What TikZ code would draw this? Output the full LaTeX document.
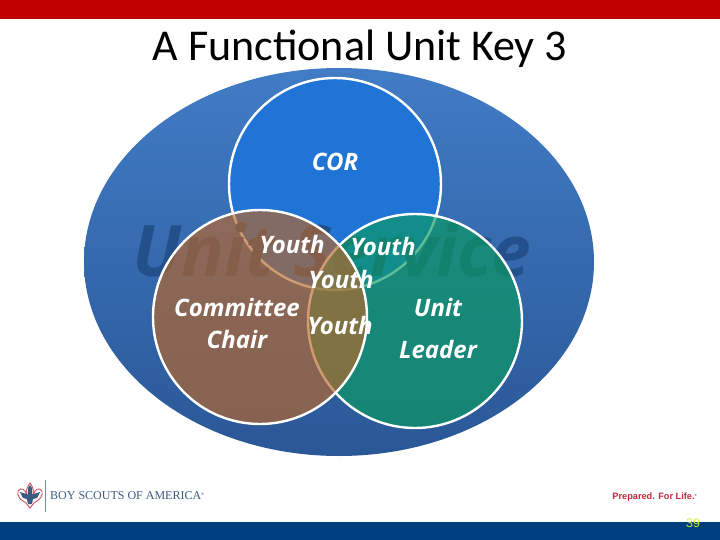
\documentclass[tikz,border=0pt]{standalone}
\usepackage{fontspec}
\setmainfont{Carlito}
\newfontfamily\labelfont{Open Sans}
\newfontfamily\logofont{Liberation Serif}
\newfontfamily\tagfont{Liberation Sans}
\usetikzlibrary{positioning}
\definecolor{colorBarra}{HTML}{C00000}
\definecolor{colorBase}{HTML}{003F7F}
\definecolor{colorCor}{HTML}{1F74D6}
\definecolor{colorChair}{HTML}{BA6729}
\definecolor{colorLeader}{HTML}{0A9C60}
\definecolor{colorFondoA}{HTML}{417CC6}
\definecolor{colorFondoB}{HTML}{2A5796}
\definecolor{colorLema}{HTML}{23508A}
\definecolor{colorLogo}{HTML}{3A5A80}
\definecolor{colorVida}{HTML}{C8243F}
\begin{document}
\begin{tikzpicture}[x=1pt, y=-1pt,
        anillo/.style={draw=white, line width=2.4pt},
        rotulo/.style={text=white, align=center, inner sep=0pt, font=\labelfont\bfseries\itshape\fontsize{24}{32}\selectfont}
    ]
        \useasboundingbox (0,0) rectangle (720,540);
        \fill[white] (0,0) rectangle (720,540);
        \fill[colorBarra] (0,0) rectangle (720,19);
        \fill[colorBase] (0,522) rectangle (720,540);
        \node (titulo) at (360,49) {\fontsize{44}{48}\selectfont A Functional Unit Key 3};
        \shade[top color=colorFondoA, bottom color=colorFondoB] (339,262) ellipse [x radius=255pt, y radius=194pt];
        \fill[colorCor] (335,184) circle [radius=106pt];
        \draw[anillo] (335,184) circle [radius=106pt];
        \node[text=colorLema, inner sep=0pt, font=\labelfont\bfseries\itshape\fontsize{71}{78}\selectfont] (lema) at (332,250) {Unit Service};
        \fill[colorLeader, fill opacity=.65] (415,321) circle [radius=107pt];
        \draw[anillo] (415,321) circle [radius=107pt];
        \fill[colorChair, fill opacity=.65] (260,317) circle [radius=107pt];
        \draw[anillo] (260,317) circle [radius=107pt];
        \node[rotulo] (cor) at (335,162) {COR};
        \node[rotulo] (jovenA) at (292,244) {Youth};
        \node[rotulo] (jovenB) at (383,246) {Youth};
        \node[rotulo] (jovenC) at (341,279) {Youth};
        \node[rotulo] (jovenD) at (340,325) {Youth};
        \node[rotulo] (chair) at (237,323) {Committee\\Chair};
        \node[rotulo, font=\labelfont\bfseries\itshape\fontsize{24}{42}\selectfont] (leader) at (438,328) {Unit\\Leader};
        \draw[colorLogo!70!white, line width=.6pt] (45,480) -- (45,512);
        \draw[colorVida!80!white, fill=white, line width=.9pt] (30,483) .. controls (26,489) and (26,492) .. (27,495) .. controls (25,489) and (21,487) .. (18,491) .. controls (17,496) and (20,499) .. (23,501) -- (26,503) -- (30,508) -- (34,503) -- (37,501) .. controls (40,499) and (43,496) .. (42,491) .. controls (39,487) and (35,489) .. (33,495) .. controls (34,492) and (34,489) .. (30,483) -- cycle;
        \fill[colorLogo] (20,492) -- (30,495) -- (40,492) -- (37,498) -- (33,499) -- (32,504) -- (28,504) -- (27,499) -- (23,498) -- cycle;
        \fill[colorLogo] (28,488) -- (30,485) -- (32,488) -- (32,495) -- (28,495) -- cycle;
        \node[text=colorLogo, anchor=west, inner sep=0pt, font=\logofont\fontsize{12}{14}\selectfont] (logo) at (50,496) {BOY SCOUTS OF AMERICA\raisebox{4pt}{\fontsize{4}{4}\selectfont ®}};
        \node[text=colorVida, anchor=east, inner sep=0pt, font=\tagfont\bfseries\fontsize{9.2}{10}\selectfont] (vida) at (697,497) {Prepared. For Life.\raisebox{3pt}{\fontsize{3}{3}\selectfont ®}};
        \node[text=yellow!80!green!80!white, inner sep=0pt, font=\tagfont\fontsize{12.5}{13}\selectfont] (pagina) at (693,523) {39};
    \end{tikzpicture}
\end{document}
